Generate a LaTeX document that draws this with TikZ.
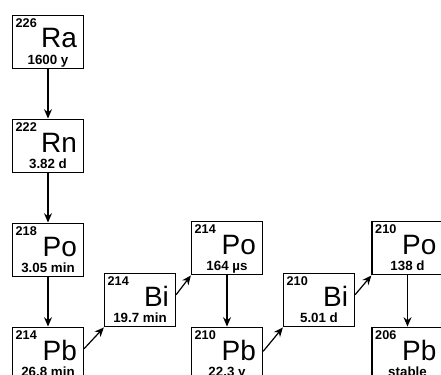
\documentclass[tikz,border=0pt]{standalone}
\usepackage{fontspec}
\setmainfont{Liberation Sans}
\usetikzlibrary{arrows.meta}

\tikzset{every picture/.style={line width=0.75pt}}
\tikzset{
    nucbox/.style={draw=black, line width=1.2pt, minimum width=53pt, minimum height=40pt, inner sep=0pt},
    massno/.style={font=\fontsize{9.5}{10}\selectfont\bfseries, inner sep=0pt},
    elem/.style={font=\fontsize{21}{21}\selectfont, inner sep=0pt},
    halflife/.style={font=\fontsize{10}{11}\selectfont\bfseries, inner sep=0pt},
    decay/.style={draw=black, line width=0.9pt, -{Stealth[length=7pt,width=6pt]}}
}

% box with mass number, symbol and half-life (y runs downwards, so yshift too)
\newcommand{\nuclide}[5]{%
    \node[nucbox] (#1) at (#2) {};
    \node[massno, anchor=north west] (#1-a) at ([xshift=2.5pt,yshift=2.5pt]#1.north west) {#3};
    \node[elem, anchor=base east] (#1-s) at ([xshift=-5pt,yshift=4.5pt]#1.east) {#4};
    \node[halflife, anchor=base] (#1-t) at ([yshift=-3.75pt]#1.south) {#5};
}

\begin{document}
\begin{tikzpicture}[
            x=0.75pt,
            y=0.75pt,
            yscale=-1,
            xscale=1,
            every node/.style={text=black},
            line width=0.75pt
        ]
            \useasboundingbox (0,0) rectangle (441,374);
            \clip (0,0) rectangle (441,374);

            \nuclide{ra226}{48,42}{226}{Ra}{1600 y}
            \nuclide{rn222}{48,146}{222}{Rn}{3.82 d}
            \nuclide{po218}{48,250}{218}{Po}{3.05 min}
            \nuclide{pb214}{48,354}{214}{Pb}{26.8 min}
            \nuclide{bi214}{140,300}{214}{Bi}{19.7 min}
            \nuclide{po214}{227,248}{214}{Po}{164 µs}
            \nuclide{pb210}{227,354}{210}{Pb}{22.3 y}
            \nuclide{bi210}{319,300}{210}{Bi}{5.01 d}
            \nuclide{po210}{407.5,248}{210}{Po}{138 d}
            \nuclide{pb206}{407.5,354}{206}{Pb}{stable}

            \draw[decay] (ra226.south) -- (rn222.north);
            \draw[decay] (rn222.south) -- (po218.north);
            \draw[decay] (po218.south) -- (pb214.north);
            \draw[decay] ([yshift=-4pt]pb214.east) -- (bi214.south west);
            \draw[decay] ([yshift=-4pt]bi214.east) -- (po214.south west);
            \draw[decay] ([yshift=-2pt]pb210.east) -- (bi210.south west);
            \draw[decay] ([yshift=-4pt]bi210.east) -- (po210.south west);
            \draw[decay] (po210.south) -- (pb206.north);
            \draw[decay] (po214.south) -- (pb210.north);
        \end{tikzpicture}
\end{document}
